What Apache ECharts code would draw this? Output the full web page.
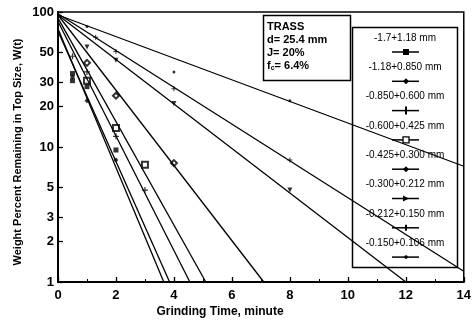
<!DOCTYPE html>
<html>
<head>
<meta charset="utf-8">
<script src="https://cdn.jsdelivr.net/npm/echarts@6/dist/echarts.min.js"></script>
<style>
  html, body { margin: 0; padding: 0; background: #fff; }
  #chart { width: 474px; height: 325px; }
</style>
</head>
<body>
<div id="chart"></div>
<script>
// size fractions (legend order, coarse -> fine)
var sizeNames = ['-1.7+1.18 mm', '-1.18+0.850 mm', '-0.850+0.600 mm', '-0.600+0.425 mm',
                 '-0.425+0.300 mm', '-0.300+0.212 mm', '-0.212+0.150 mm', '-0.150+0.106 mm'];

// fitted first-order lines: [time, W(t)] start and end
var fitLines = [
  [[0, 75], [3.65, 1]],
  [[0, 72], [3.85, 1]],
  [[0, 85], [4.55, 1]],
  [[0, 90], [5.1, 1]],
  [[0, 95], [7.1, 1]],
  [[0, 95], [12, 1]],
  [[0, 97], [14, 1.2]],
  [[0, 95], [14, 7.2]]
];

// measured points [time, W(t)]
var measured = [
  [[0.5, 35], [0.5, 31], [1, 28], [2, 9.5]],
  [[0.5, 33], [1, 22], [2, 8]],
  [[0.5, 47], [1, 36], [2, 12], [3, 4.8]],
  [[1, 31], [2, 13.8], [3, 7.4]],
  [[1, 42], [2, 24], [4, 7.6]],
  [[1, 55], [2, 44], [4, 21], [8, 4.8]],
  [[1.3, 65], [2, 51], [4, 27], [8, 8]],
  [[1, 78], [4, 36], [8, 22]]
];

var xTicks = [0, 2, 4, 6, 8, 10, 12, 14];
var yTicks = [1, 2, 3, 5, 10, 20, 30, 50, 100];

var plusPath = 'path://M4,0H6V4H10V6H6V10H4V6H0V4H4Z';
var symbols = ['rect', 'diamond', plusPath, 'emptyRect', 'emptyDiamond', 'triangle', plusPath, 'circle'];
var symSizes = [5, 5, 6, 6, 6, 5, 5, 3];
var symRotate = [0, 0, 0, 0, 0, 180, 0, 0];

var font = '"Liberation Sans", Arial, sans-serif';

var series = [];
for (var i = 0; i < sizeNames.length; i++) {
  series.push({
    name: sizeNames[i],
    type: 'line',
    data: fitLines[i],
    showSymbol: false,
    silent: true,
    lineStyle: { color: '#000', width: 1.3 },
    clip: true
  });
  series.push({
    name: sizeNames[i] + ' pts',
    type: 'scatter',
    data: measured[i],
    symbol: symbols[i],
    symbolSize: symSizes[i],
    symbolRotate: symRotate[i],
    itemStyle: { color: '#000', borderColor: '#000', borderWidth: symbols[i].indexOf('empty') === 0 ? 1.3 : 0 }
  });
}

// legend box drawn by hand: label above, line sample below
var legendX = 405, legendTop = 38, legendStep = 29.3;
var graphics = [
  { type: 'rect', shape: { x: 352.5, y: 27.5, width: 105, height: 240 },
    style: { fill: 'none', stroke: '#000', lineWidth: 1.5 }, z: 10 },
  { type: 'rect', shape: { x: 263.5, y: 15.5, width: 87, height: 65 },
    style: { fill: 'none', stroke: '#000', lineWidth: 1.5 }, z: 10 },
  { type: 'text', x: 267, y: 20, z: 11,
    style: { text: 'TRASS\nd= 25.4 mm\nJ= 20%', font: 'bold 11px ' + font, fill: '#000', lineHeight: 13 } },
  { type: 'text', x: 267, y: 59, z: 11,
    style: { text: '{n|f}{s|c}{n|= 6.4%}', fill: '#000',
      rich: { n: { font: 'bold 11px ' + font }, s: { font: 'bold 7px ' + font, padding: [6, 0, 0, 0] } } } },
  { type: 'text', x: 220, y: 306, z: 11,
    style: { text: 'Grinding Time, minute', font: 'bold 12px ' + font, fill: '#000', align: 'center' } },
  { type: 'text', x: 18, y: 152, rotation: Math.PI / 2, z: 11,
    style: { text: 'Weight Percent Remaining in Top Size, W(t)', font: 'bold 11px ' + font,
      fill: '#000', align: 'center', verticalAlign: 'middle' } }
];

function markShape(i, cx, cy) {
  var st = { fill: '#000', stroke: '#000', lineWidth: 0 };
  if (i === 0) return { type: 'rect', shape: { x: cx - 3, y: cy - 3, width: 6, height: 6 }, style: st };
  if (i === 1 || i === 4) return { type: 'polygon', shape: { points: [[cx, cy - 3], [cx + 3, cy], [cx, cy + 3], [cx - 3, cy]] }, style: st };
  if (i === 2) return { type: 'rect', shape: { x: cx - 1, y: cy - 4, width: 2, height: 8 }, style: st };
  if (i === 3) return { type: 'rect', shape: { x: cx - 3, y: cy - 3, width: 6, height: 6 }, style: { fill: '#fff', stroke: '#000', lineWidth: 1.3 } };
  if (i === 5) return { type: 'polygon', shape: { points: [[cx - 3, cy - 3], [cx + 3, cy], [cx - 3, cy + 3]] }, style: st };
  if (i === 6) return { type: 'rect', shape: { x: cx - 1, y: cy - 3, width: 2, height: 6 }, style: st };
  return { type: 'circle', shape: { cx: cx, cy: cy, r: 1.8 }, style: st };
}

for (var k = 0; k < sizeNames.length; k++) {
  var ty = legendTop + legendStep * k;
  graphics.push({ type: 'text', x: legendX, y: ty, z: 11,
    style: { text: sizeNames[k], font: '10px ' + font, fill: '#000', align: 'center', verticalAlign: 'middle' } });
  graphics.push({ type: 'line', z: 11,
    shape: { x1: legendX - 13, y1: ty + 14, x2: legendX + 14, y2: ty + 14 },
    style: { stroke: '#000', lineWidth: 1.5 } });
  var m = markShape(k, legendX + 1, ty + 14);
  m.z = 12;
  graphics.push(m);
}

var chart = echarts.init(document.getElementById('chart'), null, { renderer: 'canvas' });
chart.setOption({
  animation: false,
  backgroundColor: '#fff',
  grid: { left: 58, right: 4, top: 12, bottom: 43, show: true, borderColor: '#000', borderWidth: 1.5 },
  xAxis: {
    type: 'value', min: 0, max: 14, interval: 2,
    axisLine: { lineStyle: { color: '#000', width: 2 } },
    axisTick: { inside: true, length: 5, lineStyle: { color: '#000', width: 1.3 } },
    minorTick: { show: true, splitNumber: 2, length: 3, lineStyle: { color: '#000' } },
    splitLine: { show: false },
    axisLabel: { color: '#000', fontFamily: font, fontSize: 13, fontWeight: 'bold', margin: 7,
      formatter: function (v) { return xTicks.indexOf(v) >= 0 ? String(v) : ''; } }
  },
  yAxis: {
    type: 'log', logBase: 10, min: 1, max: 100,
    axisLine: { show: true, lineStyle: { color: '#000', width: 2 } },
    axisTick: { show: true, inside: true, length: 5, customValues: yTicks, lineStyle: { color: '#000', width: 1.3 } },
    splitLine: { show: false },
    axisLabel: { color: '#000', fontFamily: font, fontSize: 13, fontWeight: 'bold', margin: 4,
      customValues: yTicks }
  },
  graphic: graphics,
  series: series
});
</script>
</body>
</html>
